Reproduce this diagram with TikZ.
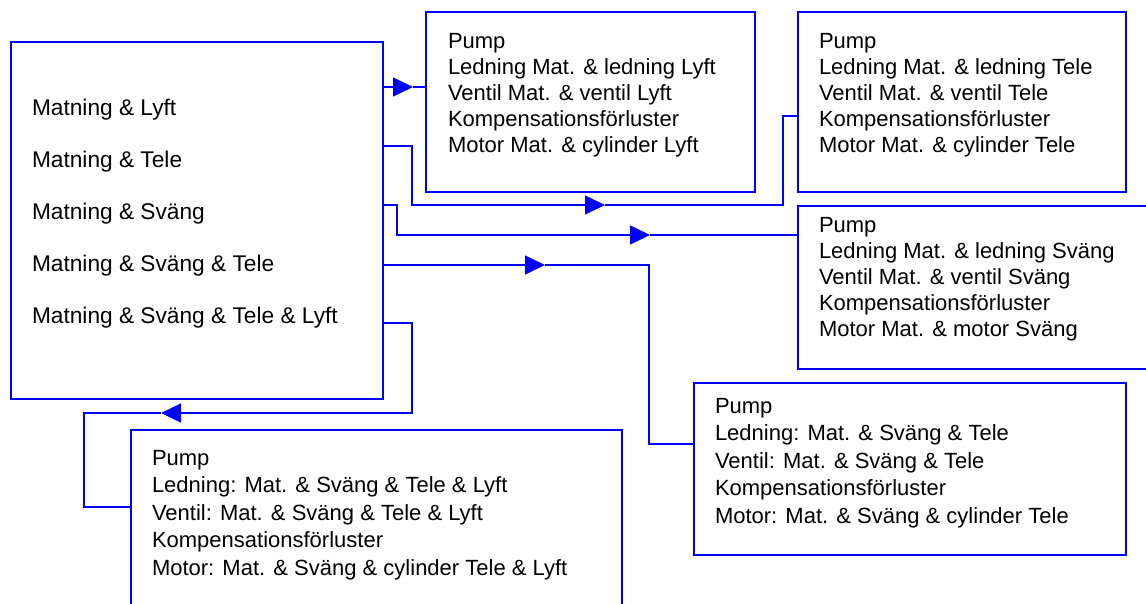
\documentclass[tikz,border=0pt]{standalone}
\usepackage{fontspec}
\setmainfont{Liberation Sans}
\usetikzlibrary{arrows.meta}
\definecolor{lineblue}{RGB}{0,0,255}
\newcommand\boxlines[3]{{\fontsize{#1}{#2}\selectfont\begin{tabular}[t]{@{}l@{}}#3\end{tabular}}}
\begin{document}
\begin{tikzpicture}[x=1pt,y=-1pt,
  box/.style={draw=lineblue, line width=1.5pt, rectangle, inner sep=0pt, outer sep=0pt, anchor=north west},
  conn/.style={color=lineblue, line width=1.5pt},
  tip/.style={-{Triangle[length=20pt,width=19pt]}},
  txt/.style={anchor=base west, inner sep=0pt, outer sep=0pt, text=black}]
\useasboundingbox (0,0) rectangle (1146,603);
\clip (0,0) rectangle (1146,603);

% boxes
\node[box, minimum width=372pt, minimum height=357pt] (main) at (11,42) {};
\node[box, minimum width=329pt, minimum height=180pt] (box1) at (426,12) {};
\node[box, minimum width=328pt, minimum height=180pt] (box2) at (798,12) {};
\node[box, minimum width=370pt, minimum height=163pt] (box3) at (798,206) {};
\node[box, minimum width=432pt, minimum height=172pt] (box4) at (694,383) {};
\node[box, minimum width=491pt, minimum height=200pt] (box5) at (131,430) {};

% texts
\node[txt] (t0) at (32,115) {\boxlines{22.7}{52}{Matning \& Lyft\\Matning \& Tele\\Matning \& Sväng\\Matning \& Sväng \& Tele\\Matning \& Sväng \& Tele \& Lyft}};
\node[txt] (t1) at (448,48) {\boxlines{22}{26}{Pump\\Ledning Mat. \& ledning Lyft\\Ventil Mat. \& ventil Lyft\\Kompensationsförluster\\Motor Mat. \& cylinder Lyft}};
\node[txt] (t2) at (819,48) {\boxlines{22}{26}{Pump\\Ledning Mat. \& ledning Tele\\Ventil Mat. \& ventil Tele\\Kompensationsförluster\\Motor Mat. \& cylinder Tele}};
\node[txt] (t3) at (819,232) {\boxlines{22}{26}{Pump\\Ledning Mat. \& ledning Sväng\\Ventil Mat. \& ventil Sväng\\Kompensationsförluster\\Motor Mat. \& motor Sväng}};
\node[txt] (t4) at (715,413.5) {\boxlines{22}{27.4}{Pump\\Ledning: Mat. \& Sväng \& Tele\\Ventil: Mat. \& Sväng \& Tele\\Kompensationsförluster\\Motor: Mat. \& Sväng \& cylinder Tele}};
\node[txt] (t5) at (152,465) {\boxlines{22}{27.5}{Pump\\Ledning: Mat. \& Sväng \& Tele \& Lyft\\Ventil: Mat. \& Sväng \& Tele \& Lyft\\Kompensationsförluster\\Motor: Mat. \& Sväng \& cylinder Tele \& Lyft}};

% levels
\coordinate (p87) at (0,87);
\coordinate (p146) at (0,146);
\coordinate (p116) at (0,116);
\coordinate (p205) at (0,205);
\coordinate (p235) at (0,235);
\coordinate (p265) at (0,265);
\coordinate (p444) at (0,444);
\coordinate (p323) at (0,323);
\coordinate (p507) at (0,507);

% connectors
\draw[conn] (main.east |- p87) edge[tip] (413,87) (413,87) -- (box1.west |- p87);
\draw[conn] (main.east |- p146) -- (412,146) -- (412,205) -- (585,205) edge[tip] (605,205)
  (605,205) -- (783,205) -- (783,116) -- (box2.west |- p116);
\draw[conn] (main.east |- p205) -- (397,205) -- (397,235) -- (630,235) edge[tip] (650,235)
  (650,235) -- (box3.west |- p235);
\draw[conn] (main.east |- p265) edge[tip] (545,265) (545,265) -- (649,265) -- (649,444) -- (box4.west |- p444);
\draw[conn] (main.east |- p323) -- (412,323) -- (412,413) -- (181,413) edge[tip] (161,413)
  (161,413) -- (84,413) -- (84,507) -- (box5.west |- p507);
\end{tikzpicture}
\end{document}
